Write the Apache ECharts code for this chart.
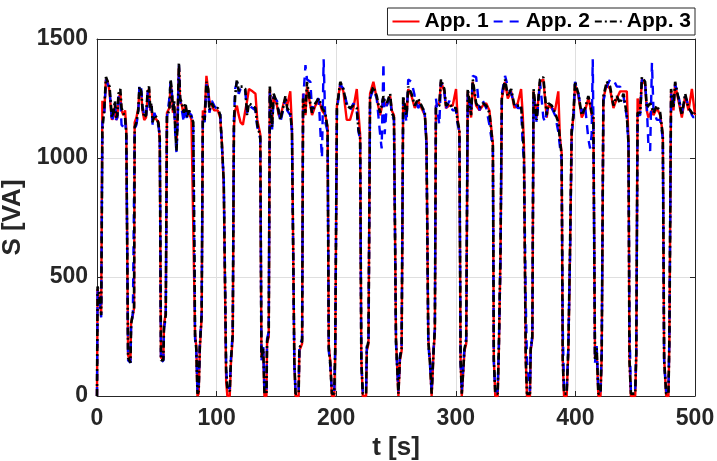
<!DOCTYPE html>
<html>
<head>
<meta charset="utf-8">
<script src="https://cdn.jsdelivr.net/npm/echarts@6/dist/echarts.min.js"></script>
<style>
  html, body { margin: 0; padding: 0; background: #fff; }
  #chart { width: 717px; height: 461px; }
</style>
</head>
<body>
<div id="chart"></div>
<script>
// time [s], one row per cycle
const time = [
  0, 0.5, 2, 3.5, 4.5, 6, 7.5, 9, 10.5, 11.5, 12.5, 14, 15, 16, 17, 18, 19.5, 20.5, 22, 23.5, 24.5,
  26, 28, 28.5, 30, 31, 31.5, 33, 34.5, 35.5, 37, 38, 39.5, 41, 42.5, 43.5, 44.5, 45.5, 46.5, 48, 50, 51.5, 52.5,
  53.5, 55.5, 56, 57.5, 58.5, 60.5, 61.5, 62.5, 63.5, 64.5, 65.5, 66.5, 67.5, 68.5, 69.5, 71, 72.5, 74, 75.5, 77, 79, 80.5,
  82, 83, 84, 85, 86, 87.5, 88.5, 90, 91.5, 93, 94, 96, 98, 101, 103, 104.5, 106,
  108, 109, 111, 112, 113.5, 114.5, 115.5, 117, 118.5, 120, 122, 124, 125.5, 127, 130, 132.5, 134, 136.5,
  137.5, 139, 140, 141.7, 142.2, 143.6, 144.5, 146.4, 147.7, 150.5, 152, 153.3, 156, 157.5, 159, 161.6, 163,
  165, 166, 168.6, 169.2, 171.5, 172.3, 174.3, 175.6, 178.4, 179.8, 182.6, 185.4, 187, 188.1, 189.5, 190.9, 192.8,
  193.8, 195, 196.4, 198.4, 199.2, 200.6, 203.4, 206, 208.8, 211.6, 214.4, 217.2, 218.6, 220,
  221, 222.2, 225, 225.6, 227, 228.3, 231.1, 233.9, 236.7, 238, 239.5, 240.5, 242.3, 245.1, 246.5, 248.3,
  250, 252, 253.3, 254.7, 256, 258.8, 260.2, 263, 265.7, 268.5, 271.3, 274.1, 275.5,
  277, 278.4, 279.8, 281, 281.5, 282.5, 283.4, 286.2, 287.6, 290.4, 291.8, 294.6, 297.4, 300.2, 301.6, 303,
  304, 305, 306.5, 307.3, 308.7, 310, 312.8, 314.2, 317, 319.8, 322.6, 325.4, 328.1, 331,
  331.8, 333, 335, 336, 337.4, 338.5, 341.2, 343.5, 346.3, 349, 351.8, 354.6, 356,
  357, 358.5, 359.5, 362, 362.6, 364, 365, 367.6, 370.4, 373.2, 374.6, 376, 377.4, 380.2, 383, 385.7, 387, 388.5,
  389.4, 390.5, 392.7, 394.1, 395.5, 396.9, 398.3, 399.7, 402.5, 405.3, 408.1, 410.8, 412.3, 413.6, 414.5, 415,
  416.4, 417.8, 419.2, 421, 422, 423.4, 426.2, 429, 431.8, 434.6, 437.4, 440.2, 443, 444.4,
  445.2, 446.4, 450, 450.9, 452, 454.2, 455.6, 458.3, 459.7, 461, 462.5, 464, 465.3, 468.1, 470.9, 473.1,
  474.2, 475.9, 477.8, 478.6, 480, 482, 483.4, 486.2, 489, 491.8, 494.6, 497.4, 498.8, 500
];

// S [VA]
const app1 = [
  0, 450, 400, 350, 1240, 1190, 1330, 1320, 1280, 1210, 1160, 1180, 1220, 1160, 1170, 1250, 1270, 1200, 1180, 1200, 1120,
  170, 150, 310, 340, 370, 1150, 1170, 1210, 1290, 1270, 1200, 1160, 1170, 1280, 1290, 1200, 1220, 1160, 1170, 1160, 1150, 1070,
  160, 160, 300, 350, 1190, 1210, 1310, 1280, 1190, 1220, 1130, 1060, 1200, 1380, 1240, 1220, 1180, 1220, 1180, 1190, 1160, 1160,
  260, 210, 0, 10, 200, 330, 1200, 1180, 1345, 1340, 1240, 1220, 1200, 1200, 1170, 1060, 880,
  60, 0, 0, 140, 250, 1130, 1200, 1220, 1180, 1150, 1140, 1200, 1240, 1290, 1280, 1270, 1160, 1100,
  170, 190, 0, 0, 220, 250, 1290, 1150, 1260, 1220, 1180, 1170, 1230, 1250, 1220, 1280, 1130,
  150, 0, 0, 190, 220, 1270, 1180, 1300, 1220, 1180, 1220, 1240, 1220, 1200, 1190, 1180, 1130,
  210, 150, 0, 0, 190, 1220, 1310, 1280, 1160, 1160, 1210, 1290, 1190, 1100,
  160, 0, 0, 190, 220, 1270, 1320, 1250, 1180, 1210, 1250, 1230, 1220, 1260, 1200, 1180,
  240, 0, 150, 190, 1250, 1170, 1290, 1260, 1210, 1240, 1210, 1180, 1070,
  240, 150, 0, 0, 190, 270, 1220, 1230, 1320, 1280, 1210, 1220, 1220, 1290, 1160, 1110,
  160, 0, 0, 190, 220, 1280, 1170, 1320, 1220, 1200, 1220, 1230, 1200, 1060,
  160, 0, 0, 190, 600, 1250, 1320, 1250, 1280, 1210, 1230, 1290, 1180,
  1050, 160, 0, 0, 190, 240, 1280, 1170, 1320, 1330, 1250, 1170, 1220, 1210, 1200, 1280, 1090, 1020,
  160, 0, 0, 190, 600, 1110, 1170, 1310, 1260, 1170, 1200, 1250, 1220, 1180, 1180, 1170,
  160, 190, 0, 0, 170, 1250, 1310, 1290, 1210, 1250, 1280, 1280, 1280, 1070,
  160, 0, 0, 170, 1250, 1200, 1330, 1310, 1200, 1170, 1170, 1200, 1180, 1210, 1180, 1100,
  160, 0, 0, 240, 1280, 1200, 1310, 1240, 1170, 1260, 1200, 1290, 1290, 1180
];

const app2 = [
  0, 440, 410, 330, 1150, 1180, 1330, 1330, 1290, 1220, 1150, 1190, 1230, 1160, 1170, 1260, 1250, 1140, 1130, 1160, 1090,
  150, 140, 290, 350, 350, 1120, 1140, 1190, 1310, 1290, 1220, 1180, 1170, 1280, 1280, 1190, 1220, 1140, 1190, 1160, 1130, 1090,
  140, 150, 280, 330, 1170, 1250, 1320, 1280, 1210, 1230, 1090, 1020, 1160, 1390, 1240, 1200, 1150, 1220, 1160, 1190, 1180, 1140,
  240, 190, 20, 30, 220, 350, 1170, 1150, 1310, 1280, 1190, 1240, 1220, 1200, 1190, 1040, 910,
  110, 40, 30, 160, 270, 1160, 1290, 1320, 1270, 1290, 1300, 1280, 1190, 1220, 1210, 1200, 1130, 1080,
  150, 210, 20, 20, 240, 270, 1280, 1120, 1260, 1240, 1200, 1150, 1210, 1250, 1200, 1180, 1110,
  130, 20, 20, 210, 240, 1240, 1390, 1330, 1320, 1200, 1240, 1250, 1090, 1000, 1415, 1150, 1110,
  190, 130, 20, 20, 210, 1200, 1310, 1290, 1230, 1200, 1230, 1200, 1110, 1080,
  140, 20, 20, 210, 240, 1250, 1290, 1250, 1100, 1040, 1400, 1100, 1220, 1260, 1180, 1160,
  220, 20, 170, 210, 1240, 1150, 1330, 1320, 1260, 1210, 1230, 1180, 1050,
  220, 130, 20, 20, 210, 290, 1250, 1140, 1320, 1280, 1210, 1240, 1200, 1200, 1140, 1110,
  140, 20, 20, 210, 240, 1270, 1190, 1345, 1340, 1200, 1240, 1210, 1140, 1040,
  140, 20, 20, 210, 580, 1270, 1345, 1300, 1270, 1230, 1210, 1210, 1050,
  990, 400, 150, 20, 180, 260, 1270, 1150, 1320, 1170, 1150, 1190, 1220, 1210, 1180, 1110, 1050, 990,
  300, 20, 20, 210, 580, 1100, 1160, 1320, 1270, 1190, 1220, 1080, 1040, 1100, 1415, 1170,
  140, 210, 20, 20, 190, 1240, 1300, 1330, 1330, 1300, 1300, 1260, 1170, 1050,
  300, 20, 20, 190, 1180, 1180, 1330, 1310, 1220, 1060, 1030, 1400, 1200, 1160, 1160, 1080,
  140, 20, 20, 260, 1270, 1220, 1310, 1260, 1190, 1260, 1220, 1180, 1170, 1180
];

const app3 = [
  0, 460, 420, 340, 1120, 1200, 1340, 1340, 1300, 1230, 1170, 1200, 1240, 1170, 1180, 1270, 1290, 1210, 1190, 1170, 1100,
  160, 140, 300, 350, 360, 1130, 1150, 1200, 1300, 1280, 1210, 1170, 1180, 1290, 1300, 1210, 1230, 1150, 1180, 1170, 1140, 1080,
  150, 150, 290, 340, 1180, 1200, 1330, 1290, 1200, 1240, 1110, 1030, 1180, 1400, 1250, 1230, 1190, 1230, 1170, 1200, 1170, 1150,
  250, 200, 10, 20, 210, 340, 1180, 1160, 1320, 1290, 1200, 1230, 1210, 1210, 1180, 1050, 900,
  100, 30, 20, 150, 260, 1150, 1260, 1330, 1280, 1300, 1300, 1290, 1180, 1230, 1220, 1210, 1140, 1090,
  160, 200, 10, 10, 230, 260, 1300, 1130, 1270, 1230, 1190, 1160, 1220, 1260, 1210, 1190, 1120,
  140, 10, 10, 200, 230, 1250, 1190, 1320, 1230, 1190, 1230, 1250, 1230, 1210, 1200, 1190, 1120,
  200, 140, 10, 10, 200, 1210, 1320, 1290, 1220, 1210, 1220, 1210, 1120, 1090,
  150, 10, 10, 200, 230, 1260, 1300, 1260, 1190, 1220, 1260, 1240, 1230, 1270, 1190, 1170,
  230, 10, 160, 200, 1260, 1180, 1300, 1270, 1220, 1250, 1220, 1190, 1060,
  230, 140, 10, 10, 200, 280, 1210, 1220, 1330, 1290, 1220, 1230, 1210, 1210, 1150, 1120,
  150, 10, 10, 200, 230, 1290, 1180, 1330, 1230, 1210, 1230, 1220, 1190, 1050,
  150, 10, 10, 200, 620, 1260, 1330, 1260, 1290, 1220, 1220, 1220, 1120,
  1000, 150, 10, 10, 200, 250, 1290, 1160, 1330, 1340, 1260, 1180, 1230, 1220, 1190, 1150, 1080, 1010,
  150, 10, 10, 200, 620, 1120, 1180, 1320, 1270, 1180, 1210, 1260, 1230, 1190, 1185, 1180,
  150, 200, 10, 10, 180, 1260, 1320, 1300, 1220, 1260, 1230, 1270, 1180, 1060,
  150, 10, 10, 180, 1190, 1190, 1340, 1320, 1210, 1220, 1230, 1210, 1190, 1220, 1190, 1090,
  150, 10, 10, 250, 1290, 1210, 1320, 1250, 1180, 1270, 1210, 1190, 1180, 1190
];

const seriesNames = ['App. 1', 'App. 2', 'App. 3'];
const xTicks = [0, 100, 200, 300, 400, 500];
const yTicks = [0, 500, 1000, 1500];

const ink = '#262626';
const font = 'Liberation Sans, Arial, Helvetica, sans-serif';

function pairs(vals) {
  return time.map((t, i) => [t, vals[i]]);
}

// shared settings for the box axes (ticks inside on all four sides)
function boxAxis(extra) {
  return Object.assign({
    type: 'value',
    axisLine: { show: true, onZero: false, lineStyle: { color: ink, width: 1 } },
    axisTick: { show: true, inside: true, length: 5, lineStyle: { color: ink } },
    splitLine: { show: false },
    axisLabel: { show: false }
  }, extra);
}

const chart = echarts.init(document.getElementById('chart'));

const option = {
  animation: false,
  backgroundColor: '#fff',
  grid: { left: 97, right: 22, top: 39, bottom: 65, outerBoundsMode: 'none', containLabel: false },
  legend: {
    right: 22,
    top: 8,
    data: seriesNames,
    itemWidth: 27,
    itemHeight: 14,
    itemGap: 4,
    padding: [3, 4, 3, 4],
    backgroundColor: '#fff',
    borderColor: ink,
    borderWidth: 1,
    borderRadius: 0,
    itemStyle: { opacity: 0 }, // line only, no marker
    textStyle: { color: '#000', fontSize: 21, fontWeight: 'bold', fontFamily: font }
  },
  xAxis: [
    boxAxis({
      min: 0, max: 500, interval: 100,
      name: 't [s]',
      nameLocation: 'middle',
      nameGap: 31,
      nameTextStyle: { color: ink, fontSize: 26, fontWeight: 'bold', fontFamily: font },
      splitLine: { show: true, lineStyle: { color: '#dfdfdf', width: 1 } },
      axisLabel: {
        show: true, margin: 11, color: ink, fontSize: 23, fontWeight: 'bold', fontFamily: font,
        customValues: xTicks, formatter: v => String(v)
      }
    }),
    boxAxis({ min: 0, max: 500, interval: 100, position: 'top' })
  ],
  yAxis: [
    boxAxis({
      min: 0, max: 1500, interval: 500,
      name: 'S [VA]',
      nameLocation: 'middle',
      nameGap: 47,
      nameTextStyle: { color: ink, fontSize: 26, fontWeight: 'bold', fontFamily: font },
      splitLine: { show: true, lineStyle: { color: '#dfdfdf', width: 1 } },
      axisLabel: {
        show: true, margin: 9, color: ink, fontSize: 23, fontWeight: 'bold', fontFamily: font,
        customValues: yTicks, formatter: v => String(v)
      }
    }),
    boxAxis({ min: 0, max: 1500, interval: 500, position: 'right' })
  ],
  series: [
    {
      name: 'App. 1', type: 'line', data: pairs(app1), symbol: 'none', z: 2,
      lineStyle: { color: '#ff0000', width: 2.4, type: 'solid' },
      itemStyle: { color: '#ff0000' }
    },
    {
      name: 'App. 2', type: 'line', data: pairs(app2), symbol: 'none', z: 3,
      lineStyle: { color: '#0000ff', width: 2.4, type: [9, 7] },
      itemStyle: { color: '#0000ff' }
    },
    {
      name: 'App. 3', type: 'line', data: pairs(app3), symbol: 'none', z: 4,
      lineStyle: { color: '#000000', width: 2.6, type: [7, 3, 2, 3] },
      itemStyle: { color: '#000000' }
    }
  ]
};

chart.setOption(option);
</script>
</body>
</html>
